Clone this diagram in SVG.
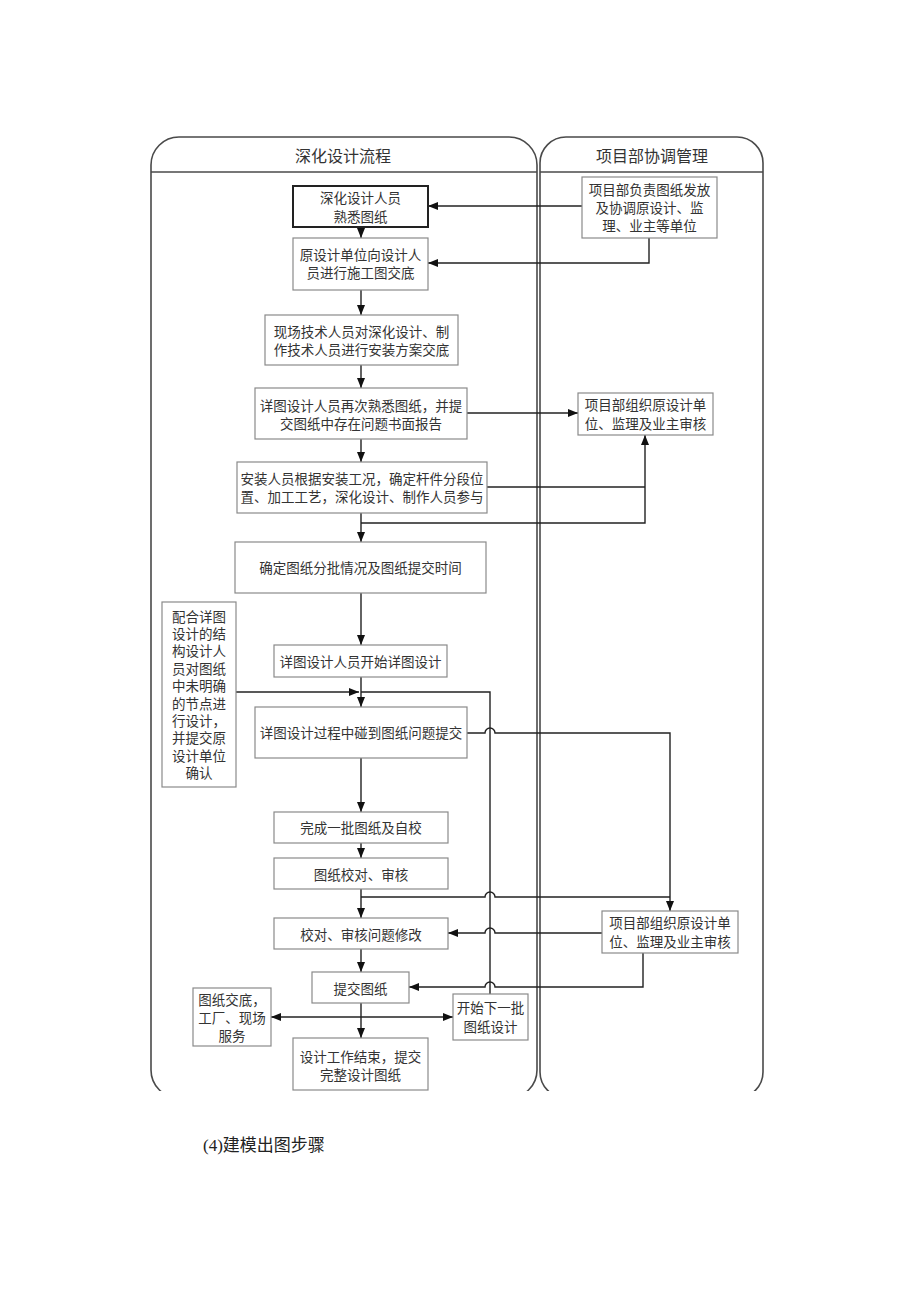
<svg xmlns="http://www.w3.org/2000/svg" width="920" height="1301" viewBox="0 0 920 1301">
<defs>
<style>
.lane{fill:none;stroke:#4a4a4a;stroke-width:1.6}
.box{fill:#fff;stroke:#8a8a8a;stroke-width:1.2}
.dark{fill:#fff;stroke:#222;stroke-width:2}
.t{font-family:"Liberation Serif","Noto Sans CJK SC",serif;font-size:13.5px;fill:#333;text-anchor:middle;dominant-baseline:central}
.h{font-family:"Liberation Serif","Noto Sans CJK SC",serif;font-size:16px;fill:#333;text-anchor:middle;dominant-baseline:central}
.c{fill:none;stroke:#222;stroke-width:1.4}
.a{marker-end:url(#ah)}
</style>
<marker id="ah" viewBox="0 0 10 8" refX="10" refY="4" markerWidth="10" markerHeight="8" markerUnits="userSpaceOnUse" orient="auto-start-reverse">
<path d="M0,0 L10,4 L0,8 z" fill="#111"/>
</marker>
<clipPath id="cut"><rect x="0" y="0" width="920" height="1091"/></clipPath>
</defs>
<rect width="920" height="1301" fill="#fff"/>

<g id="lanes" clip-path="url(#cut)">
<rect class="lane" x="151" y="137" width="386" height="961" rx="28" ry="28"/>
<line class="lane" x1="151" y1="172" x2="537" y2="172"/>
<rect class="lane" x="540" y="137" width="223" height="961" rx="26" ry="26"/>
<line class="lane" x1="540" y1="172" x2="763" y2="172"/>
</g>
<text class="h" x="343" y="156">深化设计流程</text>
<text class="h" x="652" y="156">项目部协调管理</text>

<g id="connectors">
<path class="c a" d="M582,206 H428"/>
<path class="c a" d="M649,238 V263 H428"/>
<path class="c a" d="M361,227 V238"/>
<path class="c a" d="M361,290 V315"/>
<path class="c a" d="M361,365 V388"/>
<path class="c a" d="M467,413 H578"/>
<path class="c a" d="M361,439 V462"/>
<path class="c" d="M487,487 H645"/>
<path class="c a" d="M361,523 H645 V435"/>
<path class="c a" d="M361,513 V542"/>
<path class="c a" d="M361,593 V645"/>
<path class="c a" d="M361,677 V707"/>
<path class="c a" d="M236,692 H359"/>
<path class="c" d="M490,994 V692 H361"/>
<path class="c a" d="M467,733 H485 A5,5 0 0 1 495,733 H670 V911"/>
<path class="c a" d="M361,758 V812"/>
<path class="c a" d="M361,843 V858"/>
<path class="c a" d="M361,889 V918"/>
<path class="c" d="M361,897 H485 A5,5 0 0 1 495,897 H670"/>
<path class="c a" d="M602,933 H495 A5,5 0 0 0 485,933 H448"/>
<path class="c a" d="M643,953 V987 H495 A5,5 0 0 0 485,987 H409"/>
<path class="c a" d="M361,949 V972"/>
<path class="c a" d="M361,1003 V1038"/>
<path class="c a" d="M271,1017 H453" marker-start="url(#ah)"/>
</g>

<g id="n1"><rect class="dark" x="293" y="186" width="135" height="41"/>
<text class="t" x="360.5" y="198">深化设计人员</text><text class="t" x="360.5" y="217">熟悉图纸</text></g>
<g id="n2"><rect class="box" x="293" y="238" width="135" height="52"/>
<text class="t" x="360.5" y="255">原设计单位向设计人</text><text class="t" x="360.5" y="273">员进行施工图交底</text></g>
<g id="r1"><rect class="box" x="582" y="177" width="135" height="61"/>
<text class="t" x="649.5" y="190">项目部负责图纸发放</text><text class="t" x="649.5" y="208">及协调原设计、监</text><text class="t" x="649.5" y="226">理、业主等单位</text></g>
<g id="n3"><rect class="box" x="265" y="315" width="193" height="50"/>
<text class="t" x="361.5" y="332">现场技术人员对深化设计、制</text><text class="t" x="361.5" y="350">作技术人员进行安装方案交底</text></g>
<g id="n4"><rect class="box" x="255" y="388" width="212" height="51"/>
<text class="t" x="361" y="406">详图设计人员再次熟悉图纸，并提</text><text class="t" x="361" y="424">交图纸中存在问题书面报告</text></g>
<g id="r2"><rect class="box" x="578" y="393" width="135" height="42"/>
<text class="t" x="645.5" y="405">项目部组织原设计单</text><text class="t" x="645.5" y="424">位、监理及业主审核</text></g>
<g id="n5"><rect class="box" x="237" y="462" width="250" height="51"/>
<text class="t" x="362" y="479">安装人员根据安装工况，确定杆件分段位</text><text class="t" x="362" y="497">置、加工工艺，深化设计、制作人员参与</text></g>
<g id="n6"><rect class="box" x="235" y="542" width="251" height="51"/>
<text class="t" x="360.5" y="568">确定图纸分批情况及图纸提交时间</text></g>
<g id="n7"><rect class="box" x="274" y="645" width="173" height="32"/>
<text class="t" x="360.5" y="662">详图设计人员开始详图设计</text></g>
<g id="l1"><rect class="box" x="162" y="602" width="74" height="185"/>
<text class="t" x="199" y="617">配合详图</text><text class="t" x="199" y="634.4">设计的结</text><text class="t" x="199" y="651.8">构设计人</text><text class="t" x="199" y="669.2">员对图纸</text><text class="t" x="199" y="686.6">中未明确</text><text class="t" x="199" y="704">的节点进</text><text class="t" x="199" y="721.4">行设计，</text><text class="t" x="199" y="738.8">并提交原</text><text class="t" x="199" y="756.2">设计单位</text><text class="t" x="199" y="773.6">确认</text></g>
<g id="n8"><rect class="box" x="255" y="707" width="212" height="51"/>
<text class="t" x="361" y="733">详图设计过程中碰到图纸问题提交</text></g>
<g id="n9"><rect class="box" x="274" y="812" width="174" height="31"/>
<text class="t" x="361" y="828">完成一批图纸及自校</text></g>
<g id="n10"><rect class="box" x="274" y="858" width="174" height="31"/>
<text class="t" x="361" y="875">图纸校对、审核</text></g>
<g id="n11"><rect class="box" x="274" y="918" width="174" height="31"/>
<text class="t" x="361" y="935">校对、审核问题修改</text></g>
<g id="r3"><rect class="box" x="602" y="911" width="136" height="42"/>
<text class="t" x="670" y="923">项目部组织原设计单</text><text class="t" x="670" y="942">位、监理及业主审核</text></g>
<g id="n12"><rect class="box" x="312" y="972" width="97" height="31"/>
<text class="t" x="360.5" y="989">提交图纸</text></g>
<g id="l2"><rect class="box" x="193" y="988" width="78" height="58"/>
<text class="t" x="232" y="1000">图纸交底，</text><text class="t" x="232" y="1018">工厂、现场</text><text class="t" x="232" y="1036">服务</text></g>
<g id="n13"><rect class="box" x="453" y="994" width="75" height="46"/>
<text class="t" x="490.5" y="1008">开始下一批</text><text class="t" x="490.5" y="1027">图纸设计</text></g>
<g id="n14"><rect class="box" x="293" y="1038" width="135" height="52"/>
<text class="t" x="360.5" y="1057">设计工作结束，提交</text><text class="t" x="360.5" y="1075">完整设计图纸</text></g>

<text x="203" y="1145" font-family="'Liberation Serif','Noto Sans CJK SC',serif" font-size="17" fill="#222" dominant-baseline="central">(4)建模出图步骤</text>
</svg>
